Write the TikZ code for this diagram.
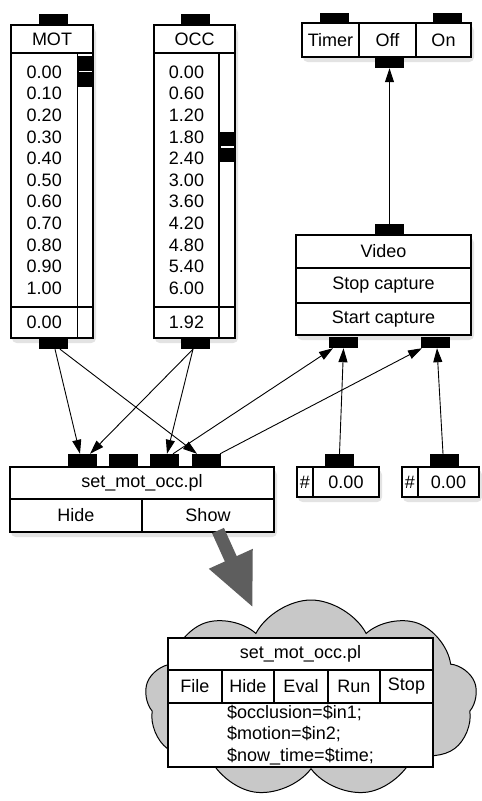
\documentclass[tikz,border=0pt]{standalone}
\usepackage{fontspec}
\setmainfont{Liberation Sans}
\usepackage{tikz}
\usetikzlibrary{arrows.meta, positioning, shapes.symbols}

\definecolor{maxGris}{HTML}{C8C8C8}
\definecolor{maxFleche}{HTML}{5E5E5E}

\tikzset{
  %% ombre portee, posee sous l'objet avant lui
  ombre/.style   = {fill=black!28, draw=black!11, line width=4pt,
                    rounded corners=3pt, inner sep=0pt},
  %% un objet entier
  cadre/.style   = {draw=black, line width=1.1pt, fill=white, inner sep=0pt},
  %% une case de l'objet
  cellule/.style = {draw=black, line width=1.1pt, fill=white, inner sep=0pt,
                    align=center},
  taille/.style 2 args = {minimum width=#1pt, minimum height=#2pt},
  %% entrees et sorties
  prise/.style   = {fill=black, inner sep=0pt, minimum width=29pt,
                    minimum height=11pt},
  fil/.style     = {-{Triangle[length=14pt, width=9pt]}, line width=0.9pt},
  grosseFleche/.style = {-{Triangle[length=54pt, width=44pt]},
                    draw=maxFleche, line width=13pt},
  nuage/.style   = {cloud, cloud puffs=9, cloud puff arc=125, draw=black,
                    line width=1pt, fill=maxGris},
}

\begin{document}
\begin{tikzpicture}[x=1pt, y=-1pt, font=\fontsize{18}{21.6}\selectfont]
\useasboundingbox (0,0) rectangle (482,801);

%% Curseur MOT
\node[ombre, taille={80}{311}] (motOmbre) at (54,185.5) {};
\node[cadre, taille={82}{313}] (motCadre) at (52,181.5) {};
\node[cellule, taille={82}{28}] (motTitre) at (52,39) {MOT};
\node[cellule, taille={66.5}{254}] (motListe) at (44.25,180)
     {0.00\\0.10\\0.20\\0.30\\0.40\\0.50\\0.60\\0.70\\0.80\\0.90\\1.00};
\node[cellule, taille={15.5}{254}] (motPiste) at (85.25,180) {};
\node[cellule, taille={66.5}{31}] (motValeur) at (44.25,322.5) {0.00};
\node[cellule, taille={15.5}{31}] (motBouton) at (85.25,322.5) {};
\node[fill=black, inner sep=0pt, taille={15.5}{31}] (motCurseur) at (85.25,71.5) {};
\draw[white, line width=1.2pt] ([xshift=2pt]motCurseur.west) -- ([xshift=-1pt]motCurseur.east);
\node[prise] (motHaut) at (53.5,19.5) {};
\node[prise] (motBas) at (53.5,343.5) {};

%% Curseur OCC
\node[ombre, taille={79}{311}] (occOmbre) at (196.5,185.5) {};
\node[cadre, taille={81}{313}] (occCadre) at (194.5,181.5) {};
\node[cellule, taille={81}{28}] (occTitre) at (194.5,39) {OCC};
\node[cellule, taille={65}{254}] (occListe) at (186.5,180)
     {0.00\\0.60\\1.20\\1.80\\2.40\\3.00\\3.60\\4.20\\4.80\\5.40\\6.00};
\node[cellule, taille={16}{254}] (occPiste) at (227,180) {};
\node[cellule, taille={65}{31}] (occValeur) at (186.5,322.5) {1.92};
\node[cellule, taille={16}{31}] (occBouton) at (227,322.5) {};
\node[fill=black, inner sep=0pt, taille={16}{30}] (occCurseur) at (227,147) {};
\draw[white, line width=1.2pt] ([xshift=2pt]occCurseur.west) -- ([xshift=-1pt]occCurseur.east);
\node[prise] (occHaut) at (195.5,19.5) {};
\node[prise] (occBas) at (195.5,343.5) {};

%% Minuterie
\node[ombre, taille={167}{32}] (minOmbre) at (388.5,44) {};
\node[cadre, taille={169}{34}] (minCadre) at (386.5,40) {};
\node[cellule, taille={57}{34}] (minTimer) at (330.5,40) {Timer};
\node[cellule, taille={57}{34}] (minOff) at (387.5,40) {Off};
\node[cellule, taille={55}{34}] (minOn) at (443.5,40) {On};
\node[prise] (minHaut1) at (334,18) {};
\node[prise] (minHaut2) at (447.5,18) {};
\node[prise] (minBas) at (389.5,62.5) {};

%% Video
\node[ombre, taille={173}{98}] (vidOmbre) at (385.5,289) {};
\node[cadre, taille={175}{100}] (vidCadre) at (383.5,285) {};
\node[cellule, taille={175}{33}] (vidTitre) at (383.5,251.5) {Video};
\node[cellule, taille={175}{35}] (vidArret) at (383.5,285.5) {Stop capture};
\node[cellule, taille={175}{32}] (vidDepart) at (383.5,319) {Start capture};
\node[prise] (vidHaut) at (389.5,229.5) {};
\node[prise] (vidBas1) at (343.5,342.5) {};
\node[prise] (vidBas2) at (435,342.5) {};

%% Script set_mot_occ
\node[ombre, taille={262}{63}] (setOmbre) at (144,503.5) {};
\node[cadre, taille={264}{65}] (setCadre) at (142,499.5) {};
\node[cellule, taille={264}{32}] (setTitre) at (142,483) {set\_mot\_occ.pl};
\node[cellule, taille={132}{33}] (setCacher) at (76,515.5) {Hide};
\node[cellule, taille={132}{33}] (setMontrer) at (208,515.5) {Show};
\foreach \i/\x in {1/82.5, 2/123.5, 3/164.5, 4/206}
  \node[prise, minimum height=13pt] (setEntree\i) at (\x,460.5) {};

%% Deux boites de nombres
\node[ombre, taille={80}{28}] (numOmbre1) at (340,486) {};
\node[cadre, taille={82}{30}] (numCadre1) at (338,482) {};
\node[cellule, taille={16}{30}] (numDiese1) at (305,482) {\#};
\node[cellule, taille={66}{30}] (numValeur1) at (346,482) {0.00};
\node[prise, minimum height=13pt] (numEntree1) at (339.5,460.5) {};
\node[ombre, taille={75}{28}] (numOmbre2) at (442.5,486) {};
\node[cadre, taille={77}{30}] (numCadre2) at (440.5,482) {};
\node[cellule, taille={16}{30}] (numDiese2) at (410,482) {\#};
\node[cellule, taille={61}{30}] (numValeur2) at (448.5,482) {0.00};
\node[prise, minimum height=13pt] (numEntree2) at (444.5,460.5) {};

%% Les fils
\draw[fil] ([xshift=1.5pt]motBas.south) -- ([xshift=-2.5pt]setEntree1.north);
\draw[fil] ([xshift=6.5pt]motBas.south) -- ([xshift=-9pt]setEntree4.north);
\draw[fil] ([xshift=-2.5pt]occBas.south) -- ([xshift=7.5pt]setEntree1.north);
\draw[fil] ([xshift=-2.5pt]occBas.south) -- ([xshift=2.5pt]setEntree3.north);
\draw[fil] ([xshift=8.5pt]setEntree3.north) -- ([xshift=-10.5pt]vidBas1.south);
\draw[fil] ([xshift=14pt]setEntree4.north) -- ([xshift=-13pt]vidBas2.south);
\draw[fil] (numEntree1.north) -- (vidBas1.south);
\draw[fil] ([xshift=-1.5pt]numEntree2.north) -- ([xshift=2pt]vidBas2.south);
\draw[fil] (vidHaut.north) -- (minBas.south);

%% L'editeur ouvert, dans son nuage
\node[nuage, taille={332}{198}] (nuage) at (311,699) {};
\coordinate (pointe) at (253,608);
\draw[grosseFleche] ([xshift=10pt, yshift=2pt]setMontrer.south) -- (pointe);
\node[cellule, taille={265}{32}] (edTitre) at (300.5,654) {set\_mot\_occ.pl};
\foreach \nom/\x/\l/\txt in {File/195/54/File, Hide/248/52/Hide, Eval/301/54/Eval,
                             Run/354/52/Run, Stop/406.5/53/Stop}
  \node[cellule, taille={\l}{33}] (ed\nom) at (\x,686.5) {\txt};
\node[cellule, taille={265}{64}, align=left] (edCode) at (300.5,735)
     {\$occlusion=\$in1;\\\$motion=\$in2;\\\$now\_time=\$time;};

\end{tikzpicture}
\end{document}
